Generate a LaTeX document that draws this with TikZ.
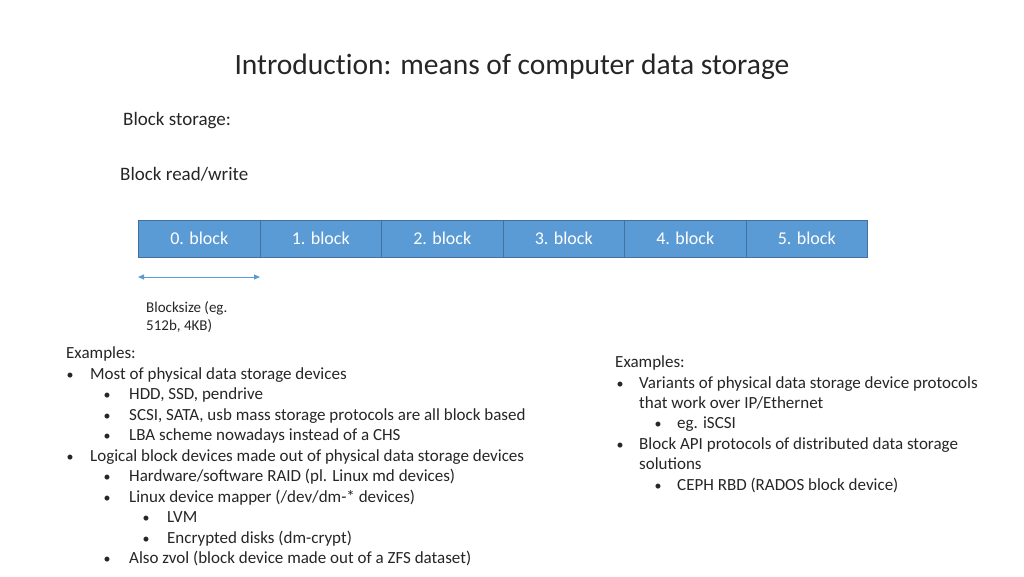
\documentclass[tikz,border=0pt]{standalone}
\usepackage{fontspec}
\setmainfont{Carlito}
\usetikzlibrary{arrows.meta}
\definecolor{blockfill}{HTML}{5B9BD5}
\definecolor{blockedge}{HTML}{41719C}
\definecolor{txt}{HTML}{262626}
\tikzset{
  blk/.style={draw=blockedge, fill=blockfill, line width=1pt, minimum width=121.5pt, minimum height=37pt, inner sep=0pt, text=white, font=\fontsize{18}{21}\selectfont, anchor=west},
  ln/.style={anchor=base west, inner sep=0pt, text=txt, font=\fontsize{17}{20}\selectfont},
  bul/.style={anchor=base, inner sep=0pt, text=txt, font=\fontsize{14}{16}\selectfont},
  small/.style={anchor=base west, inner sep=0pt, text=txt, font=\fontsize{15}{18}\selectfont},
}
\begin{document}
\begin{tikzpicture}[x=1pt,y=-1pt]
\useasboundingbox[fill=white] (0,0) rectangle (1024,576);
\node[anchor=center, text=txt, font=\fontsize{29.5}{34}\selectfont] (title) at (512,67) {Introduc\mbox{t}ion: means of computer data storage};
\node[anchor=base west, inner sep=0pt, text=txt, font=\fontsize{19}{22}\selectfont] (bs) at (123,125) {Block storage:};
\node[anchor=base west, inner sep=0pt, text=txt, font=\fontsize{19}{22}\selectfont] (brw) at (120,180) {Block read/write};
% blocks
\node[blk] (b0) at (138,238.5) {0. block};
\node[blk] (b1) at (259.5,238.5) {1. block};
\node[blk] (b2) at (381,238.5) {2. block};
\node[blk] (b3) at (502.5,238.5) {3. block};
\node[blk] (b4) at (624,238.5) {4. block};
\node[blk] (b5) at (745.5,238.5) {5. block};
\coordinate (al) at (138,277);
\coordinate (ar) at (260,277);
\draw[blockfill, line width=1pt, {Triangle[length=6pt,width=5pt]}-{Triangle[length=6pt,width=5pt]}] (al) -- (ar);
\node[small] (bsz1) at (146,312) {Blocksize (eg.};
\node[small] (bsz2) at (146,330) {512b, 4KB)};
% left list
\node[ln] (l0) at (66,358.5) {Examples:};
\node[bul] (l1b) at (70,379) {•}; \node[ln] (l1) at (90,379) {Most of physical data storage devices};
\node[bul] (l2b) at (107,399.5) {•}; \node[ln] (l2) at (129,399.5) {HDD, SSD, pendrive};
\node[bul] (l3b) at (107,420) {•}; \node[ln] (l3) at (129,420) {SCSI, SATA, usb mass storage protocols are all block based};
\node[bul] (l4b) at (107,440.5) {•}; \node[ln] (l4) at (129,440.5) {LBA scheme nowadays instead of a CHS};
\node[bul] (l5b) at (70,461) {•}; \node[ln] (l5) at (90,461) {Logical block devices made out of physical data storage devices};
\node[bul] (l6b) at (107,481.5) {•}; \node[ln] (l6) at (129,481.5) {Hardware/software RAID (pl. Linux md devices)};
\node[bul] (l7b) at (107,502) {•}; \node[ln] (l7) at (129,502) {Linux device mapper (/dev/dm-* devices)};
\node[bul] (l8b) at (146,522.5) {•}; \node[ln] (l8) at (167,522.5) {LVM};
\node[bul] (l9b) at (146,543) {•}; \node[ln] (l9) at (167,543) {Encrypted disks (dm-crypt)};
\node[bul] (l10b) at (107,563.5) {•}; \node[ln] (l10) at (129,563.5) {Also zvol (block device made out of a ZFS dataset)};
% right list
\node[ln] (r0) at (615,367.5) {Examples:};
\node[bul] (r1b) at (620,388) {•}; \node[ln] (r1) at (639,388) {Variants of physical data storage device protocols};
\node[ln] (r1c) at (639,408.5) {that work over IP/Ethernet};
\node[bul] (r2b) at (658,428.5) {•}; \node[ln] (r2) at (677,428.5) {eg. iSCSI};
\node[bul] (r3b) at (620,449) {•}; \node[ln] (r3) at (639,449) {Block API protocols of distributed data storage};
\node[ln] (r3c) at (639,469.5) {solutions};
\node[bul] (r4b) at (658,490) {•}; \node[ln] (r4) at (677,490) {CEPH RBD (RADOS block device)};
\end{tikzpicture}
\end{document}
